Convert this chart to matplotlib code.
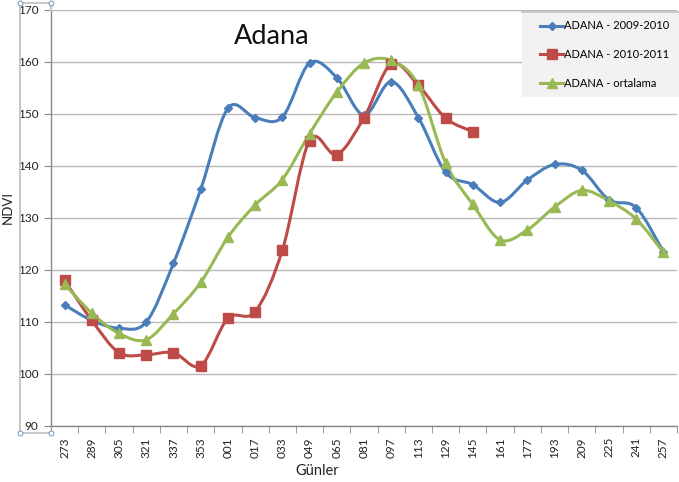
import numpy as np
import matplotlib
matplotlib.use("Agg")
import matplotlib.pyplot as plt
from matplotlib.path import Path
from matplotlib.patches import PathPatch, Rectangle
from matplotlib.lines import Line2D

plt.rcParams['font.family'] = ['Lato', 'DejaVu Sans']

# day-of-year labels (Oct -> Sep)
gunler = ['273', '289', '305', '321', '337', '353', '001', '017', '033', '049', '065', '081',
          '097', '113', '129', '145', '161', '177', '193', '209', '225', '241', '257']

adana_0910 = [113.3, 110.3, 108.8, 110.0, 121.3, 135.5, 151.1, 149.3, 149.4, 159.8, 157.0, 149.8,
              156.2, 149.3, 138.8, 136.4, 133.0, 137.3, 140.3, 139.2, 133.5, 132.0, 123.5]
adana_1011 = [118.0, 110.3, 104.1, 103.7, 104.1, 101.6, 110.7, 112.0, 123.8, 144.9, 142.2, 149.3,
              159.6, 155.5, 149.2, 146.6]
adana_ort = [117.3, 111.7, 107.8, 106.6, 111.6, 117.6, 126.3, 132.5, 137.4, 146.2, 154.2, 159.8,
             160.3, 155.5, 140.6, 132.6, 125.8, 127.7, 132.1, 135.3, 133.3, 129.8, 123.4]

labels = ['ADANA - 2009-2010', 'ADANA - 2010-2011', 'ADANA - ortalama']
colors = ['#4a7ebb', '#be4b48', '#98b954']
markers = ['D', 's', '^']
msizes = [4.5, 6.5, 7]


def smooth_path(x, y):
    # excel-style smoothed line: catmull-rom segments as cubic beziers
    pts = np.column_stack([x, y]).astype(float)
    verts = [pts[0]]
    codes = [Path.MOVETO]
    n = len(pts)
    for i in range(n - 1):
        p0 = pts[i - 1] if i > 0 else pts[i]
        p1 = pts[i]
        p2 = pts[i + 1]
        p3 = pts[i + 2] if i + 2 < n else pts[i + 1]
        c1 = p1 + (p2 - p0) / 6.0
        c2 = p2 - (p3 - p1) / 6.0
        verts += [c1, c2, p2]
        codes += [Path.CURVE4] * 3
    return Path(verts, codes)


fig = plt.figure(figsize=(6.79, 4.82), dpi=100)
ax = fig.add_axes([51 / 679, 1 - 426 / 482, 626 / 679, 416 / 482])

series = [adana_0910, adana_1011, adana_ort]
handles = []
for vals, lab, c, m, ms in zip(series, labels, colors, markers, msizes):
    xs = np.arange(len(vals))
    ax.add_patch(PathPatch(smooth_path(xs, vals), facecolor='none', edgecolor=c, lw=2.2,
                           capstyle='round', joinstyle='round', zorder=3))
    ax.plot(xs, vals, linestyle='none', marker=m, ms=ms, color=c, mec=c, zorder=4)
    handles.append(Line2D([], [], color=c, lw=2.2, marker=m, ms=ms, mec=c))

ax.set_xlim(-0.5, len(gunler) - 0.5)
ax.set_ylim(90, 170)
ax.set_yticks(np.arange(90, 171, 10))
ax.set_xticks(np.arange(len(gunler)))
ax.set_xticklabels(gunler, rotation=90, fontsize=8.5, color='#222222')
ax.set_xticks(np.arange(-0.5, len(gunler), 1), minor=True)
ax.tick_params(axis='x', which='major', length=0, pad=8)
ax.tick_params(axis='x', which='minor', length=5, color='#888888')
ax.tick_params(axis='y', length=5, color='#888888', labelsize=8.5, labelcolor='#222222', pad=4)
ax.grid(axis='y', color='#b8b8b8', lw=1.0)
ax.set_axisbelow(True)
for s in ['top', 'right']:
    ax.spines[s].set_visible(False)
for s in ['left', 'bottom']:
    ax.spines[s].set_color('#888888')
    ax.spines[s].set_linewidth(1.0)

fig.text(8 / 679, 1 - 208 / 482, 'NDVI', fontsize=9.5, rotation=90, ha='center', va='center',
         color='#222222')
ax.set_xlabel('Günler', fontsize=10.5, color='#222222')
ax.xaxis.set_label_coords((317 - 51) / 626, -38 / 416)

fig.text(272 / 679, 1 - 36 / 482, 'Adana', fontsize=19.5, ha='center', va='center', color='#111111')

# legend panel
fig.patches.append(Rectangle((522 / 679, 1 - 97 / 482), 160 / 679, 85 / 482, transform=fig.transFigure,
                             facecolor='#f2f2f2', edgecolor='none', zorder=5))
fig.add_artist(Line2D([522 / 679, 1], [1 - 12 / 482, 1 - 12 / 482], color='#c0c0c0', lw=1.2,
                      transform=fig.transFigure, zorder=6))
leg = fig.legend(handles, labels, loc='upper left', bbox_to_anchor=(536 / 679, 1 - 16 / 482),
                 frameon=False, fontsize=8, handlelength=2.0, handletextpad=0.1, labelspacing=1.6,
                 borderaxespad=0)
leg.set_zorder(7)

# selection frame of the plot area
sel = dict(color='#c8c8c8', lw=1.5, transform=fig.transFigure, zorder=8)
fig.add_artist(Line2D([20 / 679, 51 / 679], [1 - 3 / 482, 1 - 3 / 482], **sel))
fig.add_artist(Line2D([20 / 679, 20 / 679], [1 - 3 / 482, 1 - 433 / 482], **sel))
fig.add_artist(Line2D([51 / 679, 51 / 679], [1 - 3 / 482, 1 - 10 / 482], **sel))
fig.add_artist(Line2D([20 / 679, 51 / 679], [1 - 433 / 482, 1 - 433 / 482], **sel))
fig.add_artist(Line2D([20 / 679, 51 / 679, 20 / 679, 51 / 679], [1 - 3 / 482, 1 - 3 / 482, 1 - 433 / 482, 1 - 433 / 482],
                      linestyle='none', marker='o', ms=3.5, mfc='white', mec='#7f9fc8', mew=0.8,
                      transform=fig.transFigure, zorder=9))

fig.savefig('out.png', dpi=100)
